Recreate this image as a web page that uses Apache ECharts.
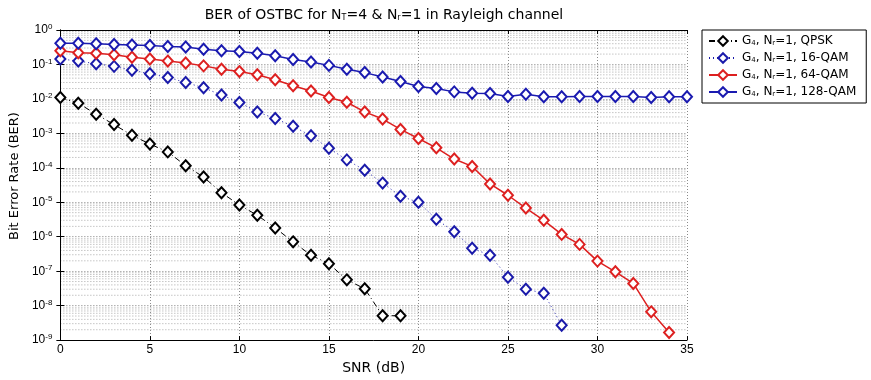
<!DOCTYPE html>
<html>
<head>
<meta charset="utf-8">
<script src="https://cdn.jsdelivr.net/npm/echarts@6/dist/echarts.min.js"></script>
<style>
  html, body { margin: 0; padding: 0; background: #fff; }
  #chart { width: 871px; height: 380px; }
</style>
</head>
<body>
<div id="chart"></div>
<script>
// SNR (dB) per point
var snr = [];
for (var i = 0; i <= 35; i++) snr.push(i);

// BER values
var berQpsk = [1.1e-2, 7.5e-3, 3.6e-3, 1.8e-3, 8.8e-4, 4.9e-4, 2.9e-4, 1.15e-4, 5.4e-5, 1.9e-5,
  8.3e-6, 4.2e-6, 1.8e-6, 7.1e-7, 2.9e-7, 1.65e-7, 5.6e-8, 3.1e-8, 5.1e-9, 5.1e-9];
var ber16 = [0.145, 0.125, 0.105, 0.088, 0.068, 0.054, 0.042, 0.030, 0.021, 0.013,
  7.9e-3, 4.2e-3, 2.7e-3, 1.6e-3, 8.5e-4, 3.7e-4, 1.7e-4, 8.5e-5, 3.6e-5, 1.5e-5,
  1.0e-5, 3.2e-6, 1.4e-6, 4.6e-7, 2.9e-7, 6.7e-8, 3.0e-8, 2.3e-8, 2.7e-9];
var ber64 = [0.25, 0.22, 0.21, 0.19, 0.162, 0.145, 0.125, 0.110, 0.091, 0.073,
  0.062, 0.050, 0.036, 0.024, 0.017, 0.011, 8.0e-3, 4.2e-3, 2.6e-3, 1.3e-3,
  7.1e-4, 3.8e-4, 1.8e-4, 1.1e-4, 3.4e-5, 1.6e-5, 6.8e-6, 3.0e-6, 1.17e-6, 6.0e-7,
  1.96e-7, 9.6e-8, 4.4e-8, 6.6e-9, 1.67e-9];
var ber128 = [0.41, 0.41, 0.40, 0.38, 0.365, 0.357, 0.33, 0.32, 0.276, 0.25,
  0.238, 0.21, 0.18, 0.139, 0.117, 0.094, 0.073, 0.058, 0.043, 0.032,
  0.023, 0.020, 0.016, 0.0146, 0.0143, 0.0118, 0.0137, 0.0116, 0.0116, 0.0118,
  0.0118, 0.0118, 0.0118, 0.011, 0.0116, 0.0116];

var seriesNames = ['QPSK', '16-QAM', '64-QAM', '128-QAM'];

// decades of the y axis (for minor log grid lines 2..9)
var decades = [-9, -8, -7, -6, -5, -4, -3, -2, -1];

function pairs(vals) {
  return vals.map(function (v, i) { return [snr[i], v]; });
}

// minor grid values, drawn by a custom series through the y scale
var minorGrid = [];
decades.forEach(function (d) {
  for (var m = 2; m <= 9; m++) minorGrid.push([0, m * Math.pow(10, d)]);
});

var font = 'Liberation Sans, Arial, sans-serif';
var wide = 'DejaVu Sans, sans-serif';
var gridDot = { color: '#8a8a8a', type: [1, 2], width: 1 };

var chart = echarts.init(document.getElementById('chart'));

var option = {
  animation: false,
  backgroundColor: '#fff',
  title: {
    text: 'BER of OSTBC for N{s|T}=4 & N{s|r}=1 in Rayleigh channel',
    left: 379,
    textAlign: 'center',
    top: 3,
    textStyle: {
      fontFamily: wide, fontSize: 14, fontWeight: 'normal', color: '#000',
      rich: {
        s: { fontFamily: wide, fontSize: 8, verticalAlign: 'bottom', padding: [6, 0, 0, 0] }
      }
    }
  },
  grid: { left: 57, right: 184, top: 30, bottom: 28 },
  legend: {
    data: seriesNames,
    orient: 'vertical',
    left: 702,
    top: 30,
    padding: [5, 10, 5, 6],
    itemGap: 5,
    itemWidth: 28,
    itemHeight: 12,
    borderColor: '#000',
    borderWidth: 1,
    backgroundColor: '#fff',
    formatter: function (name) {
      return 'G{s|4}, N{s|r}=1, ' + name;
    },
    textStyle: {
      fontFamily: wide, fontSize: 12, color: '#000',
      rich: {
        s: { fontFamily: wide, fontSize: 7, verticalAlign: 'bottom', padding: [5, 0, 0, 0] }
      }
    }
  },
  xAxis: [{
    type: 'value',
    min: 0, max: 35, interval: 5,
    name: 'SNR (dB)',
    nameLocation: 'middle',
    nameGap: 18,
    nameTextStyle: { fontFamily: wide, fontSize: 14, color: '#000' },
    axisLine: { lineStyle: { color: '#000' } },
    axisTick: { inside: true, length: 4, lineStyle: { color: '#000' } },
    axisLabel: { fontFamily: font, fontSize: 12, color: '#000', margin: 4 },
    splitLine: { show: true, lineStyle: gridDot }
  }, {
    type: 'value',
    position: 'top',
    min: 0, max: 35, interval: 5,
    axisLine: { lineStyle: { color: '#000' } },
    axisTick: { inside: true, length: 4, lineStyle: { color: '#000' } },
    axisLabel: { show: false },
    splitLine: { show: false }
  }],
  yAxis: [{
    type: 'log',
    logBase: 10,
    min: 1e-9, max: 1, interval: 1,
    name: 'Bit Error Rate (BER)',
    nameLocation: 'middle',
    nameGap: 37,
    nameTextStyle: { fontFamily: wide, fontSize: 13, color: '#000', padding: [0, 0, 0, 18] },
    axisLine: { show: true, lineStyle: { color: '#000' } },
    axisTick: { show: true, inside: true, length: 4, lineStyle: { color: '#000' } },
    axisLabel: {
      fontFamily: font, fontSize: 12, color: '#000', margin: 8,
      formatter: function (v) {
        return '10{e|' + Math.round(Math.log10(v)) + '}';
      },
      rich: {
        e: { fontFamily: font, fontSize: 8, verticalAlign: 'top', padding: [0, 0, 6, 0] }
      }
    },
    splitLine: { show: true, lineStyle: gridDot }
  }, {
    type: 'log',
    logBase: 10,
    position: 'right',
    min: 1e-9, max: 1, interval: 1,
    axisLine: { show: true, lineStyle: { color: '#000' } },
    axisTick: { show: true, inside: true, length: 4, lineStyle: { color: '#000' } },
    axisLabel: { show: false },
    splitLine: { show: false }
  }],
  series: [
    {
      name: 'minor grid',
      type: 'custom',
      silent: true,
      z: 0,
      data: minorGrid,
      renderItem: function (params, api) {
        var y = api.coord([0, api.value(1)])[1];
        var cs = params.coordSys;
        return {
          type: 'line',
          shape: { x1: cs.x, y1: y, x2: cs.x + cs.width, y2: y },
          style: { stroke: '#a8a8a8', lineWidth: 1, lineDash: [1, 2] }
        };
      }
    },
    {
      name: 'QPSK',
      type: 'line',
      data: pairs(berQpsk),
      color: '#000',
      symbol: 'emptyDiamond',
      symbolSize: [10, 11],
      lineStyle: { color: '#000', width: 1, type: [6, 3, 1, 3] },
      itemStyle: { color: '#000', borderWidth: 1.2 }
    },
    {
      name: '16-QAM',
      type: 'line',
      data: pairs(ber16),
      color: '#1a1aaa',
      symbol: 'emptyDiamond',
      symbolSize: [10, 11],
      lineStyle: { color: '#1a1aaa', width: 1, type: [1, 3] },
      itemStyle: { color: '#1a1aaa', borderWidth: 1.2 }
    },
    {
      name: '64-QAM',
      type: 'line',
      data: pairs(ber64),
      color: '#dd2020',
      symbol: 'emptyDiamond',
      symbolSize: [10, 11],
      lineStyle: { color: '#dd2020', width: 1.5 },
      itemStyle: { color: '#dd2020', borderWidth: 1.2 }
    },
    {
      name: '128-QAM',
      type: 'line',
      data: pairs(ber128),
      color: '#1a1ab0',
      symbol: 'emptyDiamond',
      symbolSize: [10, 11],
      lineStyle: { color: '#1a1ab0', width: 1.5 },
      itemStyle: { color: '#1a1ab0', borderWidth: 1.2 }
    }
  ]
};

chart.setOption(option);
window.addEventListener('resize', function () {
  chart.resize();
});
</script>
</body>
</html>
